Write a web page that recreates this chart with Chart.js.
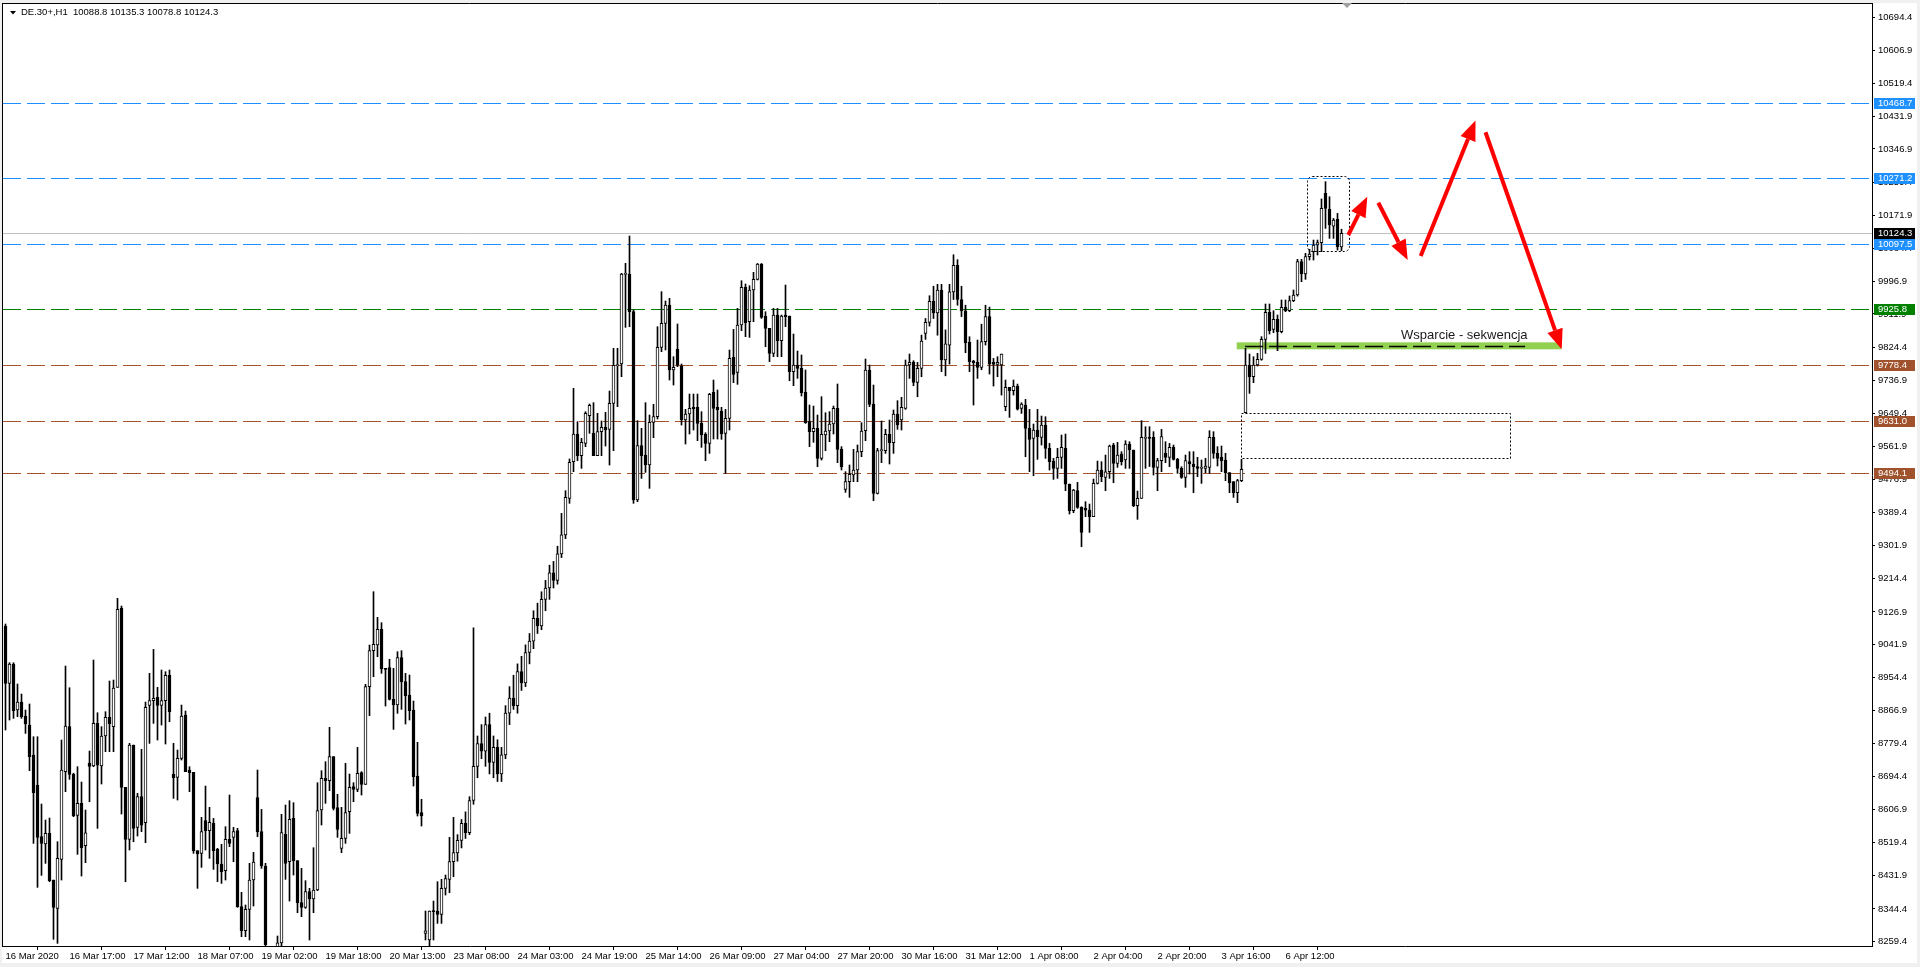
<!DOCTYPE html>
<html>
<head>
<meta charset="utf-8">
<title>DE.30+,H1</title>
<script src="https://cdn.jsdelivr.net/npm/chart.js@4.4.1/dist/chart.umd.min.js"></script>
<style>
  html, body { margin: 0; padding: 0; background: #fff; overflow: hidden; }
  canvas { display: block; }
</style>
</head>
<body>
<canvas id="chart" width="1920" height="967"></canvas>
<script>
// DE.30+ H1, 16 Mar - 7 Apr 2020
const symbolTitle = 'DE.30+,H1  10088.8 10135.3 10078.8 10124.3';

const timeLabels = ['16 Mar 2020', '16 Mar 17:00', '17 Mar 12:00', '18 Mar 07:00', '19 Mar 02:00',
  '19 Mar 18:00', '20 Mar 13:00', '23 Mar 08:00', '24 Mar 03:00', '24 Mar 19:00', '25 Mar 14:00',
  '26 Mar 09:00', '27 Mar 04:00', '27 Mar 20:00', '30 Mar 16:00', '31 Mar 12:00', '1 Apr 08:00',
  '2 Apr 04:00', '2 Apr 20:00', '3 Apr 16:00', '6 Apr 12:00'];
const barsPerLabel = 16;

const priceTicks = [10694.4, 10606.9, 10519.4, 10431.9, 10346.9, 10259.4, 10171.9, 10084.4, 9996.9,
  9911.9, 9824.4, 9736.9, 9649.4, 9561.9, 9476.9, 9389.4, 9301.9, 9214.4, 9126.9, 9041.9, 8954.4,
  8866.9, 8779.4, 8694.4, 8606.9, 8519.4, 8431.9, 8344.4, 8259.4];

const opens = [
  9089.7, 8938.6, 8989.6, 8868.4, 8889.4, 8852.6, 8828.8, 8749.8, 8670.7, 8534.6,
  8515.3, 8543.4, 8420.4, 8345.8, 8474.9, 8705.9, 8824.5, 8698.9, 8590.8, 8622.4,
  8510.9, 8728.7, 8720.8, 8833.2, 8720.8, 8799.9, 8849.0, 8824.5, 8928.1, 9136.2,
  8664.6, 8527.6, 8776.1, 8559.2, 8640.0, 8571.5, 8880.7, 8893.0, 8901.7, 8880.7,
  8893.0, 8959.7, 8698.9, 8691.0, 8741.0, 8855.2, 8710.3, 8704.1, 8497.7, 8490.7,
  8576.8, 8550.4, 8569.7, 8501.2, 8462.6, 8445.0, 8527.6, 8532.9, 8550.4, 8350.2,
  8286.9, 8343.2, 8420.4, 8637.4, 8547.8, 8457.3, 8240, 8180, 8210, 8255,
  8540.8, 8468.8, 8582.9, 8471.4, 8360.7, 8348.4, 8389.7, 8370.4, 8394.1, 8604.9,
  8688.3, 8682.2, 8745.4, 8611.0, 8503.9, 8530.2, 8600.5, 8666.4, 8659.3, 8703.3,
  8672.5, 8929.9, 9024.7, 9039.6, 9080.9, 8978.2, 8979.9, 8896.5, 8881.5, 9006.3,
  8943.0, 8907.9, 8868.4, 8694.5, 8597.9, 8279.9, 8262.4, 8338.8, 8338.8, 8330.0,
  8398.5, 8422.2, 8468.8, 8492, 8525, 8570, 8545, 8630, 8720, 8780,
  8760, 8830, 8730, 8770, 8700, 8750, 8860, 8900, 8880, 8970,
  8940, 9020, 9050, 9110, 9090, 9160, 9190, 9230, 9210, 9280,
  9330, 9426.1, 9522.7, 9595.6, 9538.5, 9571.0, 9643.9, 9597.4, 9538.5, 9601.8,
  9613.2, 9607.9, 9676.4, 9775.7, 9780.1, 10016.3, 10017.2, 9918.0, 9421.7, 9564.9,
  9540.3, 9513.9, 9626.4, 9641.3, 9824.0, 9887.2, 9935.5, 9764.3, 9818.7, 9774.8,
  9632.5, 9648.3, 9665.9, 9665.9, 9623.7, 9594.8, 9571.0, 9705.4, 9665.9, 9656.2,
  9597.4, 9636.9, 9797.6, 9758.1, 9882.8, 9982.1, 9891.6, 9975.1, 10003.2, 10043.6,
  9906.5, 9874.0, 9808.2, 9909.2, 9841.6, 9909.2, 9906.5, 9759.9, 9777.4, 9768.6,
  9705.4, 9628.1, 9601.8, 9610.6, 9531.5, 9593.0, 9603.5, 9622.0, 9663.3, 9555.2,
  9449.8, 9470.0, 9487.6, 9500.8, 9549.1, 9604.4, 9764.3, 9674.7, 9439.3, 9551.7,
  9551.7, 9594.8, 9572.8, 9648.3, 9632.5, 9663.2, 9777.4, 9784.4, 9731.7, 9768.6,
  9861, 9890, 9945, 9915, 9975, 9791, 9830, 9970, 10040, 9950,
  9920, 9837.1, 9787.9, 9784.4, 9771.2, 9838.9, 9905, 9784.4, 9779.1, 9777.4,
  9667.6, 9718.5, 9709.7, 9722.0, 9663.2, 9672.0, 9610.5, 9584.1, 9606.1, 9586.8,
  9619.3, 9557.8, 9524.4, 9505.1, 9534.1, 9557.8, 9463.8, 9393.6, 9446.3, 9402.3,
  9399.7, 9395.3, 9377.8, 9465.6, 9500.7, 9481.4, 9496.3, 9566.6, 9518.3, 9542.9,
  9527.1, 9569.3, 9553.5, 9406.8, 9426.1, 9584.2, 9586.8, 9586.8, 9507.8, 9525.4,
  9544.7, 9534.2, 9560.5, 9528.9, 9505.2, 9481.5, 9522.8, 9516.6, 9509.6, 9505.2,
  9505.2, 9507.8, 9586.8, 9544.7, 9534.2, 9527.1, 9493.7, 9470.0, 9441.1, 9472.7,
  9651.8, 9777.5, 9746.7, 9777.5, 9792.4, 9845.1, 9916.2, 9871.4, 9897.8, 9865.3,
  9929.4, 9920.6, 9947.0, 9961.9, 10049.7, 10017.2, 10062.9, 10076.1, 10093.6, 10099.8,
  10229.7, 10187.6, 10143.6, 10161.2, 10088.8
];
const highs = [
  9095, 8993.1, 8993, 8936.9, 8910.5, 8868.4, 8884.2, 8798.1, 8798.1, 8620.7,
  8578.5, 8583.8, 8420.4, 8521.4, 8789.3, 8984.3, 8927.2, 8702, 8719.1, 8678.7,
  8604.9, 8760.3, 9000.1, 8861.3, 8824.5, 8864.0, 8944.8, 8947.4, 9162.6, 9142.4,
  8664.6, 8780.5, 8776.1, 8648.8, 8764.7, 8889.4, 8965.0, 9028.2, 8928.1, 8973.8,
  8969.4, 8973.8, 8780.5, 8763.0, 8881.5, 8865.7, 8719.1, 8704.1, 8497.7, 8585.6,
  8668.1, 8611.9, 8582.9, 8503.9, 8514.4, 8561.0, 8644.4, 8559.2, 8556.6, 8388.0,
  8354.6, 8464.4, 8493.3, 8710.3, 8606.6, 8464.4, 8244, 8230, 8272.9, 8593.5,
  8618.1, 8629.5, 8624.2, 8471.4, 8451.2, 8418.7, 8398.5, 8505.6, 8676.9, 8708.5,
  8732.2, 8822.7, 8745.4, 8646.2, 8611.9, 8727.9, 8699.7, 8676.9, 8770.0, 8706.0,
  8936.0, 9039.6, 9180.2, 9112.5, 9098.5, 8978.2, 9001.9, 8978.2, 9022.1, 9024.7,
  8965.0, 8960.6, 8892.1, 8783.2, 8633.0, 8338.8, 8338.8, 8365.1, 8416.1, 8422.2,
  8433.6, 8532.9, 8585.6, 8540, 8580, 8600, 8640, 9085, 8800, 8830,
  8850, 8860, 8800, 8790, 8770, 8880, 8930, 8960, 8990, 9010,
  9040, 9070, 9130, 9150, 9180, 9210, 9250, 9260, 9300, 9386.6,
  9446.3, 9529.8, 9716.0, 9628.1, 9584.2, 9654.5, 9674.7, 9678.2, 9650.1, 9629.9,
  9652.7, 9708.9, 9821.4, 9821.4, 10019.0, 10045.3, 10117.3, 9922.4, 9630.8, 9610.6,
  9678.2, 9645.7, 9673.8, 9878.4, 9970.7, 9946.1, 9953.1, 9799.4, 9885.5, 9780.1,
  9660.6, 9701.0, 9701.0, 9701.0, 9654.5, 9599.1, 9702.8, 9737.9, 9711.6, 9665.9,
  9660.6, 9816.9, 9871.4, 9926.7, 9999.6, 9990.9, 9986.5, 10021.6, 10045.0, 10045.0,
  9917.9, 9874.0, 9926.7, 9926.7, 9909.2, 9988.2, 9906.5, 9859.1, 9814.3, 9803.8,
  9764.3, 9672.1, 9669.4, 9645.7, 9694.0, 9651.8, 9654.5, 9669.4, 9727.4, 9562.3,
  9496.4, 9514.0, 9555.2, 9566.7, 9625.5, 9793.2, 9777.4, 9724.7, 9557.9, 9629.9,
  9607.9, 9632.5, 9658.9, 9683.5, 9692.3, 9790.6, 9806.4, 9788.8, 9784.4, 9856.4,
  9900, 9960, 9985, 9990, 9990, 9870, 9990, 10068, 10055, 9985,
  9935, 9852.0, 9790, 9843.3, 9885, 9935, 9930, 9794.9, 9799.3, 9806.4,
  9737.9, 9718.5, 9737.9, 9727.3, 9678.1, 9686.9, 9660.6, 9621.9, 9660.6, 9643.0,
  9641.2, 9571.0, 9531.5, 9557.8, 9592.9, 9595.6, 9463.8, 9449.8, 9468.2, 9404.1,
  9417.3, 9411.1, 9477.0, 9524.4, 9522.7, 9540.2, 9566.6, 9571.0, 9573.6, 9549.0,
  9578.0, 9575.4, 9553.5, 9445.4, 9630.8, 9614.9, 9614.9, 9601.8, 9531.5, 9607.9,
  9575.4, 9571.0, 9566.6, 9531.5, 9509.6, 9540.3, 9549.1, 9549.1, 9534.2, 9527.1,
  9531.5, 9604.4, 9601.8, 9562.3, 9564.0, 9544.7, 9493.7, 9470.0, 9476.2, 9528.9,
  9821.4, 9806.4, 9799.4, 9808.2, 9852.1, 9938.2, 9938.2, 9920.6, 9909.2, 9948.7,
  9948.7, 9959.3, 9975.1, 10055.9, 10055.9, 10071.7, 10082.2, 10106.8, 10106.8, 10215,
  10260.5, 10220.9, 10163.8, 10177.0, 10135.3
];
const lows = [
  8815.7, 8842.0, 8846.4, 8850.8, 8846.4, 8806.9, 8708.5, 8517.0, 8401.1, 8432.7,
  8464.3, 8416.0, 8264.1, 8253.6, 8420.4, 8653.2, 8685.7, 8587.3, 8488.1, 8431.0,
  8466.1, 8626.8, 8719.1, 8556.6, 8673.4, 8758.6, 8758.6, 8758.6, 8928.1, 8594.3,
  8416.0, 8499.5, 8521.4, 8536.4, 8547.8, 8518.8, 8780.5, 8833.2, 8789.3, 8828.8,
  8778.8, 8837.6, 8635.6, 8631.2, 8736.6, 8705.9, 8653.2, 8490.7, 8398.5, 8453.8,
  8499.5, 8477.5, 8448.5, 8416.0, 8411.6, 8420.4, 8508.3, 8468.8, 8348.4, 8271.1,
  8271.1, 8262.4, 8351.9, 8534.6, 8451.2, 8200, 8150, 8140, 8160, 8230,
  8422.2, 8365.1, 8433.6, 8334.4, 8323.8, 8345.8, 8262.4, 8334.4, 8392.4, 8565.4,
  8622.5, 8655.8, 8604.9, 8532.9, 8492.5, 8517.1, 8543.4, 8626.9, 8653.2, 8644.4,
  8672.5, 8853.4, 8956.2, 9008.9, 8965.0, 8878.9, 8894.7, 8817.4, 8859.6, 8870.1,
  8831.5, 8842.0, 8668.1, 8589.1, 8562.7, 8262.4, 8240, 8262.4, 8306.2, 8306.2,
  8380.9, 8387.1, 8429.2, 8470, 8505, 8530, 8540, 8620, 8690, 8740,
  8720, 8700, 8690, 8680, 8680, 8740, 8830, 8870, 8860, 8920,
  8930, 8990, 9030, 9070, 9080, 9130, 9160, 9190, 9200, 9270,
  9320, 9413.0, 9496.4, 9525.4, 9505.2, 9562.3, 9597.4, 9538.5, 9538.5, 9538.5,
  9564.0, 9513.9, 9551.7, 9667.7, 9746.7, 9876.7, 9878.4, 9413.0, 9417.3, 9478.8,
  9494.6, 9452.5, 9586.0, 9635.2, 9812.6, 9817.0, 9737.9, 9724.7, 9773.0, 9619.3,
  9569.3, 9595.6, 9606.2, 9578.1, 9560.5, 9525.4, 9544.7, 9582.5, 9582.5, 9581.6,
  9492.0, 9606.2, 9730.9, 9726.5, 9867.9, 9852.1, 9850.3, 9891.6, 10001.5, 9900.4,
  9825.7, 9786.2, 9799.4, 9799.4, 9799.4, 9878.4, 9736.1, 9723.0, 9742.3, 9695.8,
  9623.7, 9562.3, 9573.7, 9509.6, 9527.1, 9551.7, 9575.4, 9595.6, 9520.1, 9500.8,
  9441.9, 9428.8, 9470.0, 9470.0, 9535.9, 9578.1, 9667.7, 9420.0, 9437.5, 9520.1,
  9544.7, 9516.6, 9544.7, 9607.9, 9606.2, 9660.6, 9742.2, 9722.9, 9693.9, 9746.6,
  9845, 9880, 9900, 9856, 9760, 9749, 9780, 9950, 9935, 9905,
  9810, 9759.8, 9672.0, 9742.2, 9765, 9830, 9753.7, 9722.0, 9746.6, 9698.3,
  9657.0, 9639.5, 9698.3, 9658.8, 9650.0, 9535.8, 9496.3, 9485.8, 9528.8, 9566.6,
  9531.5, 9500.7, 9476.1, 9478.8, 9505.1, 9446.3, 9384.8, 9388.3, 9399.7, 9298.7,
  9377.8, 9336.5, 9377.8, 9463.8, 9470.0, 9446.3, 9478.8, 9467.3, 9507.7, 9513.9,
  9505.1, 9505.2, 9404.2, 9370.8, 9426.1, 9505.2, 9510, 9487.6, 9446.3, 9496.4,
  9520.1, 9509.6, 9527.1, 9492.0, 9478.8, 9455.1, 9490.2, 9441.1, 9483.2, 9465.6,
  9493.7, 9492.0, 9531.5, 9511.3, 9496.4, 9472.7, 9441.1, 9428.7, 9414.7, 9470,
  9651.8, 9702.8, 9730.9, 9774.8, 9790, 9808.2, 9859.1, 9862.6, 9815.2, 9862,
  9918.0, 9918, 9944.3, 9959, 9997.0, 10003.2, 10054.1, 10054.1, 10067.3, 10076.1,
  10137.5, 10111.2, 10111.2, 10080.4, 10078.8
];
const closes = [
  8938.6, 8989.6, 8866.6, 8889.4, 8850.8, 8831.5, 8745.4, 8650.5, 8532.9, 8517.0,
  8543.4, 8418.7, 8348.4, 8477.5, 8710.3, 8826.2, 8698.9, 8589.1, 8622.4, 8505.6,
  8545.1, 8719.9, 8833.2, 8723.4, 8799.9, 8849.0, 8831.5, 8926.3, 9133.6, 8664.6,
  8527.6, 8776.1, 8556.6, 8640.0, 8565.3, 8875.4, 8893.0, 8899.1, 8880.7, 8893.0,
  8959.7, 8864.0, 8690.1, 8741.0, 8852.6, 8705.9, 8703.3, 8497.7, 8488.9, 8547.8,
  8550.4, 8572.4, 8497.7, 8462.6, 8442.4, 8527.6, 8517.0, 8547.8, 8350.2, 8286.9,
  8343.2, 8420.4, 8467.9, 8546.9, 8457.3, 8250, 8180, 8210, 8255, 8545.2,
  8464.4, 8580.3, 8471.4, 8360.7, 8348.4, 8389.7, 8370.4, 8394.1, 8603.1, 8688.3,
  8682.2, 8745.4, 8609.3, 8553.9, 8530.2, 8597.9, 8664.6, 8659.3, 8701.5, 8672.5,
  8929.9, 9024.7, 9041.4, 9080.9, 8976.4, 8975.5, 8896.5, 8881.5, 9006.3, 8943.0,
  8906.1, 8866.6, 8692.7, 8596.1, 8589.1, 8286.9, 8338.8, 8337.0, 8330.0, 8398.5,
  8424.0, 8468.8, 8492.5, 8525, 8570, 8545, 8630, 8720, 8780, 8760,
  8830, 8730, 8770, 8700, 8750, 8860, 8900, 8880, 8970, 8940,
  9020, 9050, 9110, 9090, 9160, 9190, 9230, 9210, 9280, 9330,
  9428.8, 9521.0, 9595.6, 9538.5, 9573.7, 9650.1, 9671.2, 9538.5, 9601.8, 9613.2,
  9606.2, 9676.4, 9776.6, 9776.6, 10017.2, 10017.2, 9918.0, 9421.7, 9564.9, 9538.5,
  9513.9, 9626.4, 9641.3, 9824.0, 9887.2, 9935.5, 9764.3, 9771.3, 9777.4, 9632.5,
  9648.3, 9663.3, 9661.5, 9623.7, 9593.0, 9571.0, 9700.1, 9663.3, 9658.9, 9595.6,
  9636.9, 9795.0, 9752.8, 9882.8, 9982.1, 9889.0, 9975.1, 10003.2, 10043.6, 9903.0,
  9874.0, 9808.2, 9909.2, 9841.6, 9906.5, 9904.8, 9759.9, 9777.4, 9768.6, 9704.5,
  9625.5, 9601.8, 9610.6, 9531.5, 9594.8, 9603.5, 9622.0, 9663.3, 9555.2, 9509.6,
  9470.0, 9489.4, 9500.8, 9549.1, 9603.5, 9764.3, 9673.8, 9439.3, 9551.7, 9553.5,
  9594.8, 9572.8, 9648.3, 9619.3, 9665.9, 9777.4, 9784.4, 9731.7, 9768.6, 9840.6,
  9890, 9945, 9915, 9975, 9791, 9833, 9970, 10040, 9950, 9920,
  9836, 9786.2, 9783.5, 9771.2, 9838.9, 9905, 9780.0, 9779.1, 9784.4, 9806.4,
  9718.5, 9709.7, 9722.0, 9661.4, 9674.6, 9610.5, 9581.5, 9606.1, 9588.5, 9619.3,
  9557.8, 9522.7, 9505.1, 9534.1, 9560.4, 9463.8, 9393.6, 9448.0, 9402.3, 9336.5,
  9395.3, 9377.8, 9465.6, 9500.7, 9483.1, 9496.3, 9564.0, 9518.3, 9540.2, 9522.7,
  9569.2, 9553.5, 9406.8, 9426.1, 9586.8, 9586.8, 9584.2, 9507.8, 9525.4, 9588.6,
  9534.2, 9560.5, 9528.9, 9505.2, 9481.5, 9525.4, 9516.6, 9509.6, 9505.2, 9507.8,
  9511.3, 9586.8, 9544.7, 9531.5, 9525.4, 9493.7, 9467.4, 9441.1, 9472.7, 9502.5,
  9777.5, 9746.7, 9777.5, 9792.4, 9845.1, 9916.2, 9867.9, 9897.8, 9865.3, 9929.4,
  9920.6, 9947.0, 9961.9, 10049.7, 10017.2, 10062.9, 10069.9, 10093.6, 10099.8, 10190.2,
  10190.2, 10146.3, 10159.5, 10089.2, 10124.3
];

// horizontal levels drawn on the chart
const levelValues = [10468.7, 10271.2, 10097.5, 9925.8, 9778.4, 9631.0, 9494.1];
const levelColors = ['#1E90FF', '#1E90FF', '#1E90FF', '#008000', '#A0522D', '#A0522D', '#A0522D'];
const lastPrice = 10124.3;

// annotations, in (bar index, price)
const supportZone = [307.8, 388.9, 9818.8, 9837.2];
const supportLine = [309.9, 379.9, 9827.5];
const supportText = 'Wsparcie - sekwencja';
const supportTextAt = [348.9, 9856.5];
const topBox = [325.3, 335.75, 10077.8, 10275.4];
const gapBox = [308.95, 376.1, 9531.5, 9650.1];
const arrows = [
  [335.7, 10120.0, 340.45, 10221.0],
  [343.2, 10205.1, 350.55, 10054.1],
  [353.8, 10064.6, 367.5, 10422.0],
  [370.0, 10390.8, 389.05, 9818.8]
];
const shiftMarkAt = 335.4;

const font = '"Liberation Sans", Arial, sans-serif';
const bars = opens.map((o, i) => i);

function drawArrow(c, x0, y0, x1, y1) {
  const ang = Math.atan2(y1 - y0, x1 - x0);
  const headLen = 20, headW = 8;
  const bx = x1 - headLen * Math.cos(ang), by = y1 - headLen * Math.sin(ang);
  c.lineWidth = 4;
  c.beginPath(); c.moveTo(x0, y0); c.lineTo(bx, by); c.stroke();
  c.beginPath();
  c.moveTo(x1, y1);
  c.lineTo(bx + headW * Math.sin(ang), by - headW * Math.cos(ang));
  c.lineTo(bx - headW * Math.sin(ang), by + headW * Math.cos(ang));
  c.closePath(); c.fill();
}

const overlay = {
  id: 'overlay',
  beforeDraw(chart) {
    const c = chart.ctx;
    c.save();
    c.fillStyle = '#fff';
    c.fillRect(0, 0, chart.width, chart.height);
    c.restore();
  },
  beforeDatasetsDraw(chart) {
    const { ctx: c, chartArea: a, scales: { x, y } } = chart;
    c.save();
    c.beginPath(); c.rect(a.left, a.top, a.right - a.left, a.bottom - a.top); c.clip();

    // support zone (green band)
    const zx0 = x.getPixelForValue(supportZone[0]), zx1 = x.getPixelForValue(supportZone[1]);
    const zy0 = y.getPixelForValue(supportZone[3]), zy1 = y.getPixelForValue(supportZone[2]);
    c.fillStyle = '#92D050';
    c.fillRect(zx0, zy0, zx1 - zx0, zy1 - zy0);

    // bid line
    const by = Math.round(y.getPixelForValue(lastPrice)) + 0.5;
    c.strokeStyle = '#C0C0C0'; c.lineWidth = 1;
    c.beginPath(); c.moveTo(a.left, by); c.lineTo(a.right, by); c.stroke();

    // levels
    c.setLineDash([18, 6]);
    levelValues.forEach((v, k) => {
      const ly = Math.round(y.getPixelForValue(v)) + 0.5;
      c.strokeStyle = levelColors[k];
      c.beginPath(); c.moveTo(a.left, ly); c.lineTo(a.right, ly); c.stroke();
    });
    c.restore();
  },
  afterDatasetsDraw(chart) {
    const { ctx: c, chartArea: a, scales: { x, y } } = chart;
    c.save();
    c.beginPath(); c.rect(a.left, a.top, a.right - a.left, a.bottom - a.top); c.clip();

    // dashed line on the support zone
    const sy = Math.round(y.getPixelForValue(supportLine[2])) + 0.5;
    c.strokeStyle = '#000'; c.lineWidth = 1.5; c.setLineDash([18, 6]);
    c.beginPath();
    c.moveTo(x.getPixelForValue(supportLine[0]), sy);
    c.lineTo(x.getPixelForValue(supportLine[1]), sy);
    c.stroke();

    // dotted boxes
    c.lineWidth = 1; c.setLineDash([2, 2]); c.strokeStyle = '#000';
    let bx0 = Math.round(x.getPixelForValue(gapBox[0])) + 0.5, bx1 = Math.round(x.getPixelForValue(gapBox[1])) + 0.5;
    let by0 = Math.round(y.getPixelForValue(gapBox[3])) + 0.5, by1 = Math.round(y.getPixelForValue(gapBox[2])) + 0.5;
    c.strokeRect(bx0, by0, bx1 - bx0, by1 - by0);
    bx0 = Math.round(x.getPixelForValue(topBox[0])) + 0.5; bx1 = Math.round(x.getPixelForValue(topBox[1])) + 0.5;
    by0 = Math.round(y.getPixelForValue(topBox[3])) + 0.5; by1 = Math.round(y.getPixelForValue(topBox[2])) + 0.5;
    c.beginPath(); c.roundRect(bx0, by0, bx1 - bx0, by1 - by0, 5); c.stroke();

    // label
    c.setLineDash([]);
    c.font = '13px ' + font; c.fillStyle = '#1a1a1a';
    c.textBaseline = 'middle'; c.textAlign = 'left';
    c.fillText(supportText, x.getPixelForValue(supportTextAt[0]), y.getPixelForValue(supportTextAt[1]));

    // arrows
    c.strokeStyle = '#FF0000'; c.fillStyle = '#FF0000';
    arrows.forEach(ar => drawArrow(c,
      x.getPixelForValue(ar[0]), y.getPixelForValue(ar[1]),
      x.getPixelForValue(ar[2]), y.getPixelForValue(ar[3])));
    c.restore();
  },
  afterDraw(chart) {
    const { ctx: c, chartArea: a, scales: { x, y } } = chart;
    const W = chart.width, H = chart.height;
    c.save();
    // window border
    c.fillStyle = '#F0F0F0';
    c.fillRect(0, 0, W, 3);
    c.fillRect(0, 0, 2, H);
    c.fillRect(W - 3, 0, 3, H);
    c.fillRect(0, H - 4, W, 4);
    // frame top/left
    c.strokeStyle = '#000'; c.lineWidth = 1;
    c.beginPath();
    c.moveTo(2, 3.5); c.lineTo(a.right + 1, 3.5);
    c.moveTo(2.5, 3); c.lineTo(2.5, a.bottom + 1);
    c.stroke();

    // shift marker
    const mx = Math.round(x.getPixelForValue(shiftMarkAt));
    c.fillStyle = '#A0A0A0';
    c.beginPath(); c.moveTo(mx - 5, 3); c.lineTo(mx + 5, 3); c.lineTo(mx, 8); c.closePath(); c.fill();

    // title
    c.fillStyle = '#000';
    c.beginPath(); c.moveTo(10, 11); c.lineTo(16, 11); c.lineTo(13, 14.5); c.closePath(); c.fill();
    c.font = '9.5px ' + font; c.textBaseline = 'middle'; c.textAlign = 'left';
    c.fillText(symbolTitle, 21, 12.5);

    // price tags on the axis
    const tag = (v, bg) => {
      const ty = Math.round(y.getPixelForValue(v));
      c.fillStyle = bg;
      c.fillRect(a.right + 2, ty - 5, 41, 11);
      c.fillStyle = '#fff';
      c.fillText(v.toFixed(1), a.right + 6, ty + 0.5);
    };
    levelValues.forEach((v, k) => tag(v, levelColors[k]));
    tag(lastPrice, '#000');
    c.restore();
  }
};

new Chart(document.getElementById('chart'), {
  type: 'bar',
  data: {
    datasets: [
      {
        label: 'body',
        order: 0,
        data: bars.map(i => ({ x: i, y: [opens[i], closes[i]] })),
        backgroundColor: bars.map(i => closes[i] >= opens[i] ? '#ffffff' : '#000000'),
        borderColor: '#000',
        borderWidth: 1,
        borderSkipped: false,
        barThickness: 3,
        minBarLength: 1,
        grouped: false,
        clip: 0
      },
      {
        label: 'wick',
        order: 1,
        data: bars.map(i => ({ x: i, y: [lows[i], highs[i]] })),
        backgroundColor: '#000',
        borderWidth: 0,
        barThickness: 1,
        grouped: false,
        clip: 0
      }
    ]
  },
  options: {
    responsive: false,
    animation: false,
    devicePixelRatio: 1,
    layout: { padding: { left: 3, top: 4, right: 0, bottom: 0 } },
    plugins: { legend: { display: false }, tooltip: { enabled: false } },
    scales: {
      x: {
        type: 'linear',
        min: -0.625,
        max: 466.625,
        offset: false,
        grid: { drawOnChartArea: false, drawTicks: true, tickLength: 4, color: '#000' },
        border: { display: true, color: '#000' },
        ticks: {
          autoSkip: false, maxRotation: 0, minRotation: 0, align: 'start', padding: 1,
          color: '#000', font: { family: font, size: 9.5 },
          callback: (v, k) => timeLabels[k]
        },
        afterBuildTicks: s => { s.ticks = timeLabels.map((t, k) => ({ value: k * barsPerLabel })); },
        afterFit: s => { s.height = 21; s.paddingLeft = 0; s.paddingRight = 0; }
      },
      y: {
        type: 'linear',
        position: 'right',
        min: 8246.6,
        max: 10728.7,
        grid: { drawOnChartArea: false, tickLength: 3, color: '#000' },
        border: { display: true, color: '#000' },
        ticks: {
          autoSkip: false, padding: 3, color: '#000', font: { family: font, size: 9.5 },
          callback: v => v.toFixed(1)
        },
        afterBuildTicks: s => { s.ticks = priceTicks.map(v => ({ value: v })); },
        afterFit: s => { s.width = 48; s.paddingTop = 0; s.paddingBottom = 0; }
      }
    }
  },
  plugins: [overlay]
});
</script>
</body>
</html>
